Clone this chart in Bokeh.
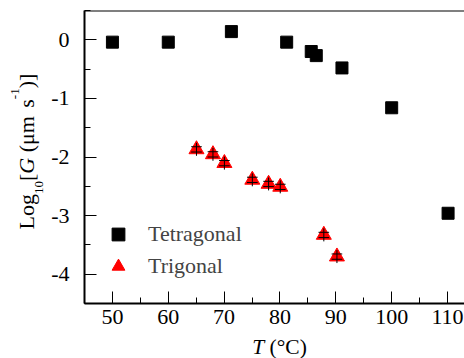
import math
from bokeh.plotting import figure
from bokeh.layouts import column, row
from bokeh.models import (SingleIntervalTicker, Span, Legend, LegendItem, Range1d,
                          CustomJSTickFormatter)
from bokeh.core.properties import value
from bokeh.embed import file_html
from bokeh.resources import INLINE

# ---------------- data ----------------
tet_T = [50, 60, 71.3, 81.2, 85.6, 86.5, 91.1, 100, 110.1]
tet_logG = [-0.04, -0.04, 0.14, -0.04, -0.20, -0.27, -0.48, -1.16, -2.96]

tri_T = [65.05, 68.0, 70.05, 75.05, 77.96, 80.05, 87.85, 90.2]
tri_logG = [-1.87, -1.955, -2.105, -2.39, -2.46, -2.51, -3.33, -3.70]
tri_err = [0.11, 0.11, 0.11, 0.11, 0.11, 0.11, 0.11, 0.11]

series_names = ["Tetragonal", "Trigonal"]
x_start, x_end = 45, 113.04
y_start, y_end = -4.5, 0.5

# ---------------- layout ----------------
W, H = 464, 358
YLAB_W = 48          # width of the y-title strip
XLAB_H = 24          # height of the x-title strip
MAIN_W, MAIN_H = W - YLAB_W, H - XLAB_H
ML, MR, MT, MB = 83 - YLAB_W, 0, 10, 31
FONT = "Liberation Serif"
BASE_COMP = 0.32     # em; compensates the renderer's baseline offset

p = figure(width=MAIN_W, height=MAIN_H, output_backend="svg", toolbar_location=None,
           x_range=Range1d(x_start, x_end), y_range=Range1d(y_start, y_end),
           min_border_left=ML, min_border_right=MR, min_border_top=MT, min_border_bottom=MB)
p.outline_line_color = None
p.grid.visible = False
p.background_fill_color = "white"
p.border_fill_color = "white"

p.xaxis.ticker = SingleIntervalTicker(interval=10, num_minor_ticks=2)
p.yaxis.ticker = SingleIntervalTicker(interval=1, num_minor_ticks=2)
fmt = CustomJSTickFormatter(code="return tick.toString();")
for ax in (p.xaxis[0], p.yaxis[0]):
    ax.formatter = fmt
    ax.axis_line_color = "black"
    ax.axis_line_width = 2
    ax.major_tick_line_color = "black"
    ax.minor_tick_line_color = "black"
    ax.major_tick_line_width = 1
    ax.minor_tick_line_width = 1
    ax.major_tick_in = 12
    ax.major_tick_out = 0
    ax.minor_tick_in = 6
    ax.minor_tick_out = 0
    ax.major_label_text_font = FONT
    ax.major_label_text_font_size = "22px"
    ax.major_label_text_color = "black"
p.xaxis.major_label_standoff = 6
p.yaxis.major_label_standoff = 15

p.add_layout(Span(location=y_end, dimension="width", line_color="black", line_width=2))

# ---------------- data glyphs ----------------
r_sq = p.scatter(tet_T, tet_logG, marker="square", size=12, fill_color="black", line_color="black")
r_tri = p.scatter(tri_T, tri_logG, marker="triangle", size=15, fill_color="red", line_color="red")

lo = [y - e for y, e in zip(tri_logG, tri_err)]
hi = [y + e for y, e in zip(tri_logG, tri_err)]
p.segment(x0=tri_T, y0=lo, x1=tri_T, y1=hi, line_color="black", line_width=1)
cap = 0.045
capw = 0.95
p.segment(x0=[t - capw for t in tri_T], y0=[y + cap for y in tri_logG],
          x1=[t + capw for t in tri_T], y1=[y + cap for y in tri_logG], line_color="black", line_width=1)
p.segment(x0=[t - capw for t in tri_T], y0=[y - cap for y in tri_logG],
          x1=[t + capw for t in tri_T], y1=[y - cap for y in tri_logG], line_color="black", line_width=1)

legend = Legend(items=[LegendItem(label=series_names[0], renderers=[r_sq]),
                       LegendItem(label=series_names[1], renderers=[r_tri])],
                location=(18, 21), border_line_color=None, background_fill_alpha=0,
                padding=5, margin=0, spacing=-6, glyph_height=32, glyph_width=32,
                label_standoff=14, label_text_font=FONT, label_text_font_size="22px",
                label_height=32)
p.add_layout(legend)


def strip(w, h, y0, y1):
    f = figure(width=w, height=h, output_backend="svg", toolbar_location=None,
               x_range=Range1d(0, w), y_range=Range1d(y0, y1),
               x_axis_type=None, y_axis_type=None,
               min_border_left=0, min_border_right=0, min_border_top=0, min_border_bottom=0)
    f.outline_line_color = None
    f.background_fill_color = "white"
    f.border_fill_color = "white"
    return f

# advance widths in em/1000 (Times metrics)
WID = {"L": 611, "o": 500, "g": 500, "1": 500, "0": 500, "[": 333, "G": 722, " ": 250,
       "(": 333, "μ": 576, "m": 778, "s": 389, "-": 333, ")": 333, "]": 333, "T": 556}

# ---------------- y title strip ----------------
# its frame is aligned with the main frame (canvas y MT .. MAIN_H-MB); data y = -canvas y
fy = strip(YLAB_W, MAIN_H, -(MAIN_H - MB), -MT)
pieces = [("Log", 22, "normal", 0, 0), ("10", 13, "normal", 10, 0), ("[", 22, "normal", 0, 0),
          ("G", 22, "italic", 0, 0), (" ", 22, "normal", 0, 0), ("(μm", 22, "normal", 0, 2),
          (" ", 22, "normal", 0, 0), ("s", 22, "normal", 0, 0), ("-1", 13, "normal", -14, 0),
          (")]", 22, "normal", 0, 0)]
pos = 229.0      # canvas y (from top) of the start of the title
base_x = 33.0    # canvas x of the baseline
for txt, fs, style, shift, extra in pieces:
    if txt.strip():
        fy.text(x=[base_x + shift - BASE_COMP * fs], y=[-pos], text=[txt],
                angle=math.pi / 2, text_font=value(FONT), text_font_size=value(f"{fs}px"),
                text_font_style=value(style), text_align="left", text_baseline="alphabetic",
                text_color="black")
    pos -= sum(WID[c] for c in txt) / 1000 * fs + extra

# ---------------- x title strip ----------------
fx = strip(W, XLAB_H, 0, XLAB_H)
XFS = 21.5
xl_x = 251.7
xl_base = H - 353.3 + BASE_COMP * XFS    # measured from strip bottom
fx.text(x=[xl_x], y=[xl_base], text=["T"], text_font=value(FONT),
        text_font_size=value(f"{XFS}px"), text_font_style=value("italic"),
        text_align="left", text_baseline="alphabetic", text_color="black")
fx.text(x=[xl_x + (WID["T"] + WID[" "]) / 1000 * XFS], y=[xl_base], text=["(°C)"],
        text_font=value(FONT), text_font_size=value(f"{XFS}px"), text_align="left",
        text_baseline="alphabetic", text_color="black")

layout = column(row(fy, p, spacing=0), fx, spacing=0)
open("out.html", "w").write(file_html(layout, INLINE))
